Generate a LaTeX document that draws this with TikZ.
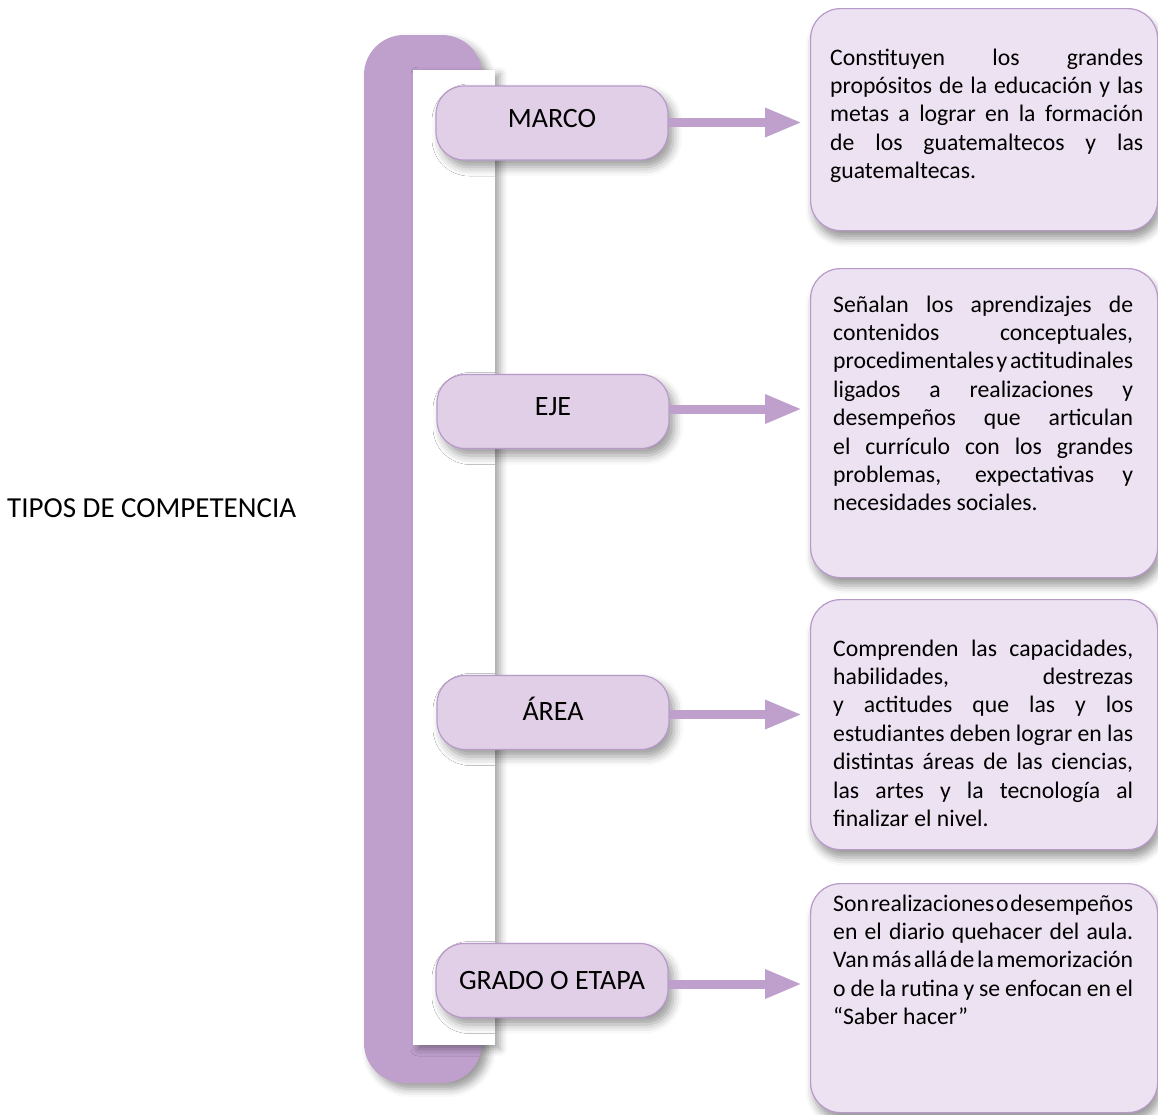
\documentclass[tikz,border=0pt]{standalone}
\usepackage{fontspec}
\setmainfont{Carlito}
\usetikzlibrary{arrows.meta,shadows.blur,calc}
\definecolor{brk}{RGB}{191,160,205}
\definecolor{lblfill}{RGB}{224,207,231}
\definecolor{lblline}{RGB}{184,154,202}
\definecolor{tbfill}{RGB}{237,226,241}
\definecolor{tbline}{RGB}{184,154,202}
\newcommand{\jline}[1]{\makebox[\linewidth][s]{#1}\par}
\newcommand{\tsp}{\hspace{1.5pt plus 20pt}}
\begin{document}
\begin{tikzpicture}[x=1pt,y=-1pt,
  lbl/.style={draw=lblline, line width=1.2pt, fill=lblfill, rounded corners=28pt,
    minimum width=232pt, minimum height=74pt, inner sep=0pt,
    text height=18pt, text depth=10pt,
    font=\fontsize{28}{34}\selectfont,
    blur shadow={shadow xshift=5pt, shadow yshift=-7pt, shadow blur radius=9pt, shadow opacity=40}},
  tbox/.style={draw=tbline, line width=1.2pt, fill=tbfill, rounded corners=30pt,
    minimum width=347pt, inner sep=0pt, anchor=north west,
    blur shadow={shadow xshift=3pt, shadow yshift=-8pt, shadow blur radius=8pt, shadow opacity=40}},
  ttext/.style={anchor=base west, inner sep=0pt},
  arr/.style={draw=brk, line width=9pt, -{Triangle[length=37pt,width=27pt]}},
  title/.style={anchor=west, inner sep=0pt, font=\fontsize{29}{35}\selectfont}
]
\useasboundingbox (0,0) rectangle (1158,1114);

% bracket
\path[fill=brk, rounded corners=40pt,
  blur shadow={shadow xshift=6pt, shadow yshift=-6pt, shadow blur radius=8pt, shadow opacity=40}]
  (364,35) rectangle (482,1083);
\path[fill=white,
  blur shadow={shadow xshift=5pt, shadow yshift=-4pt, shadow blur radius=7pt, shadow opacity=35}]
  (413,70) rectangle (495,1045);

% title
\node[title] (ttl) at (7,508) {TIPOS DE COMPETENCIA};

% labels
\node[lbl] (m1) at (552,123) {MARCO};
\node[lbl, text depth=11pt] (m2) at (553,411.5) {EJE};
\node[lbl, text height=26pt] (m3) at (553,712.5) {ÁREA};
\node[lbl, text depth=0pt] (m4) at (552,980.5) {GRADO O ETAPA};

% arrow ends
\coordinate (a1) at (802,122.5);
\coordinate (a2) at (802,409);
\coordinate (a3) at (802,714.5);
\coordinate (a4) at (802,984);
\draw[arr] (m1.east |- a1) -- (a1);
\draw[arr] (m2.east |- a2) -- (a2);
\draw[arr] (m3.east |- a3) -- (a3);
\draw[arr] (m4.east |- a4) -- (a4);

% text boxes
\node[tbox, minimum height=222pt] (b1) at (810,8) {};
\node[tbox, minimum height=309pt] (b2) at (810,268) {};
\node[tbox, minimum height=250pt] (b3) at (810,599) {};
\node[tbox, minimum height=229pt] (b4) at (810,883) {};

\node[ttext] (t1) at ($(b1.north west)+(20,57)$) {\parbox[t]{313pt}{\fontsize{23.7}{28.4}\selectfont\parindent0pt
\jline{Constituyen los grandes}
\jline{propósitos de la educación y las}
\jline{metas a lograr en la formación}
\jline{de los guatemaltecos y las}
guatemaltecas.}};

\node[ttext] (t2) at ($(b2.north west)+(23,44)$) {\parbox[t]{300pt}{\fontsize{23.7}{28.4}\selectfont\parindent0pt
\jline{Señalan los aprendizajes de}
\jline{contenidos conceptuales,}
\jline{procedimentales\tsp y\tsp actitudinales}
\jline{ligados a realizaciones y}
\jline{desempeños que articulan}
\jline{el currículo con los grandes}
\jline{problemas, expectativas y}
necesidades sociales.}};

\node[ttext] (t3) at ($(b3.north west)+(23,57)$) {\parbox[t]{300pt}{\fontsize{23.7}{28.4}\selectfont\parindent0pt
\jline{Comprenden las capacidades,}
\jline{habilidades, destrezas}
\jline{y actitudes que las y los}
\jline{estudiantes deben lograr en las}
\jline{distintas áreas de las ciencias,}
\jline{las artes y la tecnología al}
finalizar el nivel.}};

\node[ttext] (t4) at ($(b4.north west)+(23,28)$) {\parbox[t]{300pt}{\fontsize{23.7}{28.4}\selectfont\parindent0pt
\jline{Son\tsp realizaciones\tsp o\tsp desempeños}
\jline{en el diario quehacer del aula.}
\jline{Van\tsp más\tsp allá\tsp de\tsp la\tsp memorización}
\jline{o de la rutina y se enfocan en el}
“Saber hacer”}};
\end{tikzpicture}
\end{document}
